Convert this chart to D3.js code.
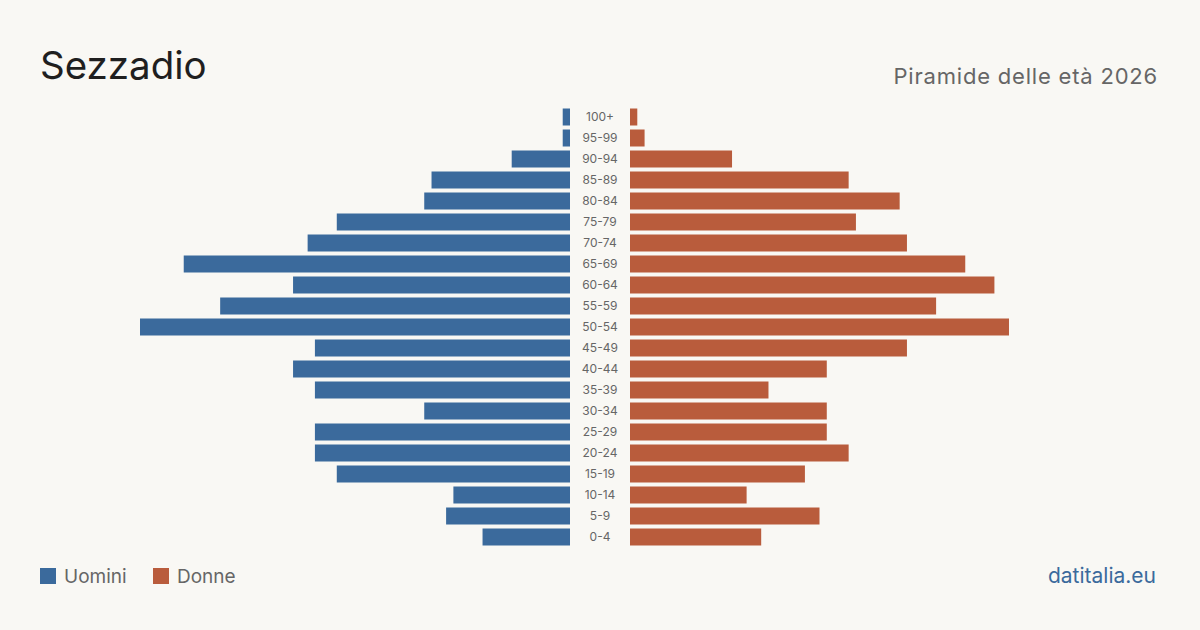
<!DOCTYPE html>
<html><head><meta charset="utf-8">
<script src="https://cdn.jsdelivr.net/npm/d3@7"></script>
<style>html,body{margin:0;padding:0;background:#f9f8f4;}svg{display:block;font-family:Inter,"Noto Sans",sans-serif;}</style>
</head><body><svg id="c" width="1200" height="630"></svg>
<script>
const ageGroups = ["100+","95-99","90-94","85-89","80-84","75-79","70-74","65-69","60-64","55-59","50-54","45-49","40-44","35-39","30-34","25-29","20-24","15-19","10-14","5-9","0-4"];
const men   = [1,1,8,19,20,32,36,53,38,48,59,35,38,35,20,35,35,32,16,17,12];
const women = [1,2,14,30,37,31,38,46,50,42,52,38,27,19,27,27,30,24,16,26,18];
const title = "Sezzadio";
const subtitle = "Piramide delle età 2026";
const legendLabels = ["Uomini","Donne"];
const source = "datitalia.eu";

const blue = "#3b6a9c", orange = "#b95c3c";
const svg = d3.select("#c");
svg.append("rect").attr("width",1200).attr("height",630).attr("fill","#f9f8f4");

const maxV = d3.max(men.concat(women));
const xL = d3.scaleLinear().domain([0,maxV]).range([570,140]);
const xR = d3.scaleLinear().domain([0,maxV]).range([630,1060]);
const y = d3.scaleBand().domain(ageGroups).range([106.5,547.5]).paddingInner(4/21).paddingOuter(2/21);

svg.append("g").selectAll("rect").data(ageGroups).join("rect")
  .attr("x",(d,i)=>xL(men[i])).attr("width",(d,i)=>xL(0)-xL(men[i]))
  .attr("y",d=>y(d)).attr("height",y.bandwidth()).attr("fill",blue);
svg.append("g").selectAll("rect").data(ageGroups).join("rect")
  .attr("x",xR(0)).attr("width",(d,i)=>xR(women[i])-xR(0))
  .attr("y",d=>y(d)).attr("height",y.bandwidth()).attr("fill",orange);
svg.append("g").selectAll("text").data(ageGroups).join("text")
  .attr("x",600).attr("y",d=>y(d)+y.bandwidth()/2).attr("dy","0.36em")
  .attr("text-anchor","middle").attr("font-size",12).attr("fill","#666").text(d=>d);

svg.append("text").attr("x",40).attr("y",79).attr("font-size",38.5).attr("fill","#1f1f1f").text(title);
svg.append("text").attr("x",1158).attr("y",84).attr("text-anchor","end").attr("font-size",22).attr("letter-spacing","0.8px").attr("fill","#666").text(subtitle);

const lg = svg.append("g");
const lx = [40,153];
legendLabels.forEach((l,i)=>{
  lg.append("rect").attr("x",lx[i]).attr("y",568).attr("width",16).attr("height",16).attr("fill",i?orange:blue);
  lg.append("text").attr("x",lx[i]+24).attr("y",583).attr("font-size",19).attr("fill","#666").text(l);
});
svg.append("text").attr("x",1156).attr("y",583).attr("text-anchor","end").attr("font-size",21).attr("fill",blue).text(source);
</script></body></html>
